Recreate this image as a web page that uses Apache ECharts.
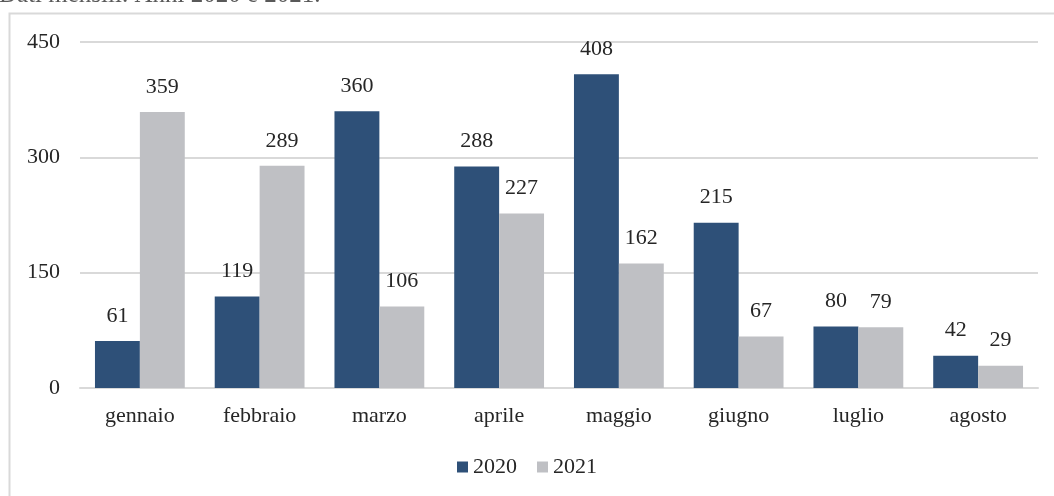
<!DOCTYPE html>
<html><head><meta charset="utf-8">
<script src="https://cdn.jsdelivr.net/npm/echarts@6/dist/echarts.min.js"></script>
<style>html,body{margin:0;padding:0;background:#fff}#c{width:1054px;height:496px}</style>
</head><body><div id="c"></div>
<script>
const categories = ['gennaio','febbraio','marzo','aprile','maggio','giugno','luglio','agosto'];
const values2020 = [61,119,360,288,408,215,80,42];
const values2021 = [359,289,106,227,162,67,79,29];
const yTicks = {min:0, max:450, interval:150};
const subtitle = 'Dati mensili. Anni 2020 e 2021.';
const font = '"Liberation Serif", "DejaVu Serif", serif';
const fs = 22;
const chart = echarts.init(document.getElementById('c'));
chart.setOption({
  animation:false,
  textStyle:{fontFamily:font},
  graphic:[
    {type:'rect',shape:{x:9.5,y:13.5,width:1100,height:600},style:{fill:'none',stroke:'#d9d9d9',lineWidth:2},silent:true},
    {type:'text',left:-1,top:-17,style:{text:subtitle,font:'25px '+font,fill:'#595959'}}
  ],
  grid:{left:80,right:16,top:42,bottom:108},
  legend:{bottom:13,left:'center',itemWidth:11,itemHeight:11,itemGap:20,icon:'rect',
    textStyle:{fontFamily:font,fontSize:fs,color:'#262626'},data:['2020','2021']},
  xAxis:{type:'category',data:categories,
    axisLine:{lineStyle:{color:'#d9d9d9',width:2}},axisTick:{show:false},
    axisLabel:{fontFamily:font,fontSize:fs,color:'#262626',margin:17}},
  yAxis:{type:'value',min:yTicks.min,max:yTicks.max,interval:yTicks.interval,
    axisLine:{show:false},axisTick:{show:false},
    splitLine:{lineStyle:{color:'#d9d9d9',width:2}},
    axisLabel:{fontFamily:font,fontSize:fs,color:'#262626',margin:20}},
  series:[
    {name:'2020',type:'bar',data:values2020,barGap:'0%',barCategoryGap:'25%',
      itemStyle:{color:'#2e5078'},
      label:{show:true,position:'top',distance:14,fontFamily:font,fontSize:fs,color:'#262626'}},
    {name:'2021',type:'bar',data:values2021,
      itemStyle:{color:'#bfc0c4'},
      label:{show:true,position:'top',distance:14,fontFamily:font,fontSize:fs,color:'#262626'}}
  ]
});
</script></body></html>
